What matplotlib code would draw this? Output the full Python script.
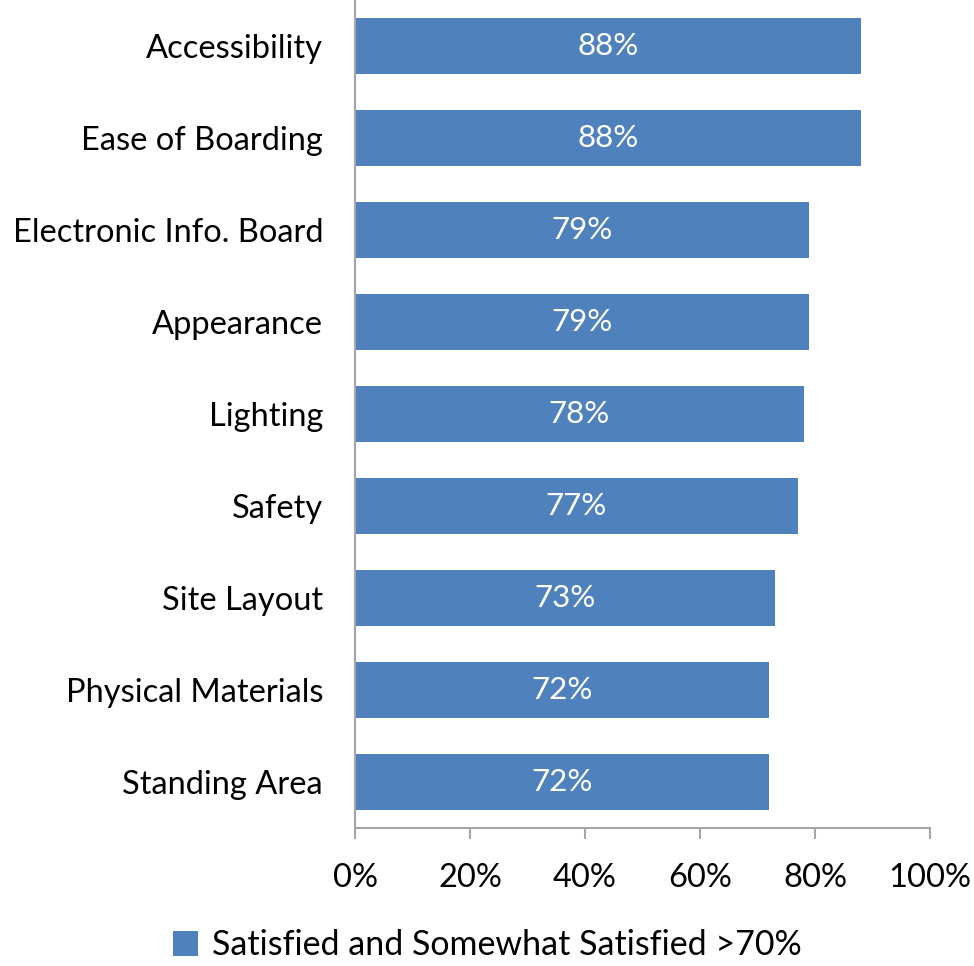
import matplotlib
matplotlib.use("Agg")
import matplotlib.pyplot as plt
from matplotlib.ticker import FuncFormatter

# Satisfaction share per station attribute (top to bottom)
categories = [
    "Accessibility", "Ease of Boarding", "Electronic Info. Board",
    "Appearance", "Lighting", "Safety", "Site Layout",
    "Physical Materials", "Standing Area",
]
values = [88, 88, 79, 79, 78, 77, 73, 72, 72]
x_ticks = [0, 20, 40, 60, 80, 100]
series_name = "Satisfied and Somewhat Satisfied >70%"

bar_color = "#4F81BD"
axis_color = "#A6A6A6"

plt.rcParams["font.family"] = ["Lato", "DejaVu Sans"]

fig = plt.figure(figsize=(9.74, 9.66), dpi=100)
ax = fig.add_axes([355 / 974, 1 - 828 / 966, 575 / 974, 828 / 966])

ypos = list(range(len(categories)))[::-1]
bars = ax.barh(ypos, values, height=0.6, color=bar_color, label=series_name)

for b, v in zip(bars, values):
    ax.text(b.get_width() / 2, b.get_y() + b.get_height() / 2, f"{v}%",
            ha="center", va="center", color="white", fontsize=22.5)

ax.set_xlim(0, 100)
ax.set_ylim(-0.5, len(categories) - 0.5)
ax.set_xticks(x_ticks)
ax.xaxis.set_major_formatter(FuncFormatter(lambda x, _: f"{x:.0f}%"))
ax.set_yticks(ypos)
ax.set_yticklabels(categories)

for side in ("top", "right"):
    ax.spines[side].set_visible(False)
for side in ("left", "bottom"):
    ax.spines[side].set_color(axis_color)
    ax.spines[side].set_linewidth(1.5)

ax.tick_params(axis="x", direction="out", length=8, width=1.5, color=axis_color,
               labelsize=23.5, pad=17, labelcolor="black")
ax.tick_params(axis="y", length=0, labelsize=23.5, pad=23, labelcolor="black")

fig.legend(handles=[bars], labels=[series_name], loc="center",
           bbox_to_anchor=(0.5, 1 - 945 / 966), frameon=False, fontsize=24.5,
           handlelength=0.75, handleheight=0.75, handletextpad=0.4)

fig.savefig("out.png", dpi=100, facecolor="white")
